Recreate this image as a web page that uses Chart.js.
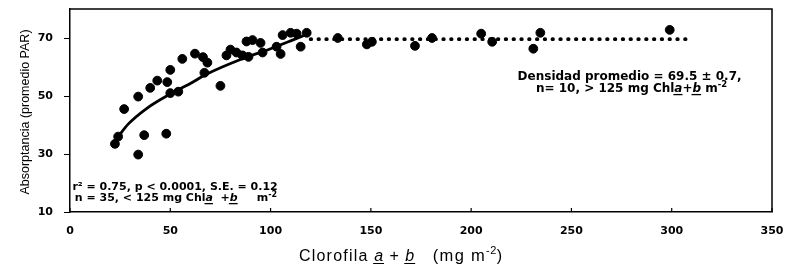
<!DOCTYPE html>
<html><head><meta charset="utf-8">
<script src="https://cdn.jsdelivr.net/npm/chart.js@4/dist/chart.umd.min.js"></script>
<style>html,body{margin:0;padding:0;background:#fff}#wrap{width:788px;height:264px}</style>
</head><body><div id="wrap"><canvas id="c" width="788" height="264"></canvas></div>
<script>
// Data
const lowX  = [22.4,24,27,34,37,34,40,43.5,48.5,48,50,54,50,56,62.3,66.3,68.5,67,75,78,80,83,86,88,89,91,95,96,103,105,106,110,113,115,118];
const lowY  = [33.5,36,45.5,29.8,36.5,49.8,52.8,55.3,54.8,37,51,51.5,59,62.8,64.6,63.4,61.5,58,53.5,64,66,65,64,68.8,63.5,69.3,68.3,65,67,64.5,71,71.8,71.5,67,71.8];
const highX = [133.5,148,150.5,172,180.5,205,210.5,231,234.5,299];
const highY = [70,67.8,68.7,67.3,70,71.5,68.7,66.3,71.8,72.8];
const fitX  = [24,29,38,50,60,68,85,100,110,120];
const fitY  = [36,40.3,45.6,50.7,54.3,57.5,62.6,66.3,69,71.8];
const meanX = [120,308];
const meanY = [69.6,69.6];
const xTicks = [0,50,100,150,200,250,300,350];
const yTicks = [10,30,50,70];

const pts = (xs, ys) => xs.map((x, i) => ({x, y: ys[i]}));
const SANS = '"Liberation Sans", Arial, sans-serif';
const DJV = '"DejaVu Sans", sans-serif';

function drawRich(ctx, parts, x, y, align) {
  let total = 0;
  parts.forEach(p => { ctx.font = p.font; ctx.letterSpacing = (p.ls || 0) + 'px'; p.w = ctx.measureText(p.t).width; total += p.w; });
  let cx = align === 'center' ? x - total / 2 : x;
  ctx.textBaseline = 'alphabetic';
  ctx.textAlign = 'left';
  parts.forEach(p => {
    ctx.font = p.font; ctx.letterSpacing = (p.ls || 0) + 'px';
    ctx.fillText(p.t, cx, y + (p.sup || 0));
    if (p.u) { ctx.fillRect(cx - 1, y + 2, p.w + 1, 1.3); }
    cx += p.w;
  });
  ctx.letterSpacing = '0px';
}

const framePlugin = {
  id: 'frame',
  afterDraw(chart) {
    const {ctx, chartArea: a, scales} = chart;
    const xs = scales.x, ys = scales.y;
    ctx.save();
    ctx.strokeStyle = '#000'; ctx.lineWidth = 1.5;
    ctx.beginPath();
    ctx.moveTo(a.left, a.top); ctx.lineTo(a.right, a.top); ctx.lineTo(a.right, a.bottom);
    ctx.stroke();
    // inward x tick marks
    ctx.lineWidth = 1.2;
    ctx.beginPath();
    xTicks.forEach(v => { const px = xs.getPixelForValue(v); ctx.moveTo(px, a.bottom); ctx.lineTo(px, a.bottom - 4); });
    ctx.stroke();
    ctx.fillStyle = '#000';
    // y title
    ctx.save();
    ctx.translate(29, 112);
    ctx.rotate(-Math.PI / 2);
    ctx.font = '12.5px ' + SANS; ctx.textAlign = 'center'; ctx.textBaseline = 'alphabetic';
    ctx.fillText('Absorptancia (promedio PAR)', 0, 0);
    ctx.restore();
    // x title
    const n = '16px ' + SANS, it = 'italic 16px ' + SANS, sm = '11px ' + SANS;
    drawRich(ctx, [
      {t: 'Clorofila ', font: n, ls: 1.2}, {t: 'a', font: it, u: true, ls: 1}, {t: ' + ', font: n, ls: 1},
      {t: 'b', font: it, u: true, ls: 1}, {t: '   (mg m', font: '16.5px ' + SANS, ls: 1.3}, {t: '-2', font: sm, sup: -7, ls: 0.5},
      {t: ')', font: n}
    ], 299, 261, 'left');
    // annotations
    const b = 'bold 11px ' + DJV, bi = 'bold italic 11px ' + DJV, bs = 'bold 8px ' + DJV;
    const b2 = 'bold 12px ' + DJV, bi2 = 'bold italic 12px ' + DJV, bs2 = 'bold 8.5px ' + DJV;
    drawRich(ctx, [{t: 'r² = 0.75, p < 0.0001, S.E. = 0.12', font: b}], xs.getPixelForValue(1.2), ys.getPixelForValue(17.6), 'left');
    drawRich(ctx, [
      {t: 'n = 35, < 125 mg Chl', font: b}, {t: 'a', font: bi, u: true}, {t: '  +', font: b},
      {t: 'b', font: bi, u: true}, {t: '     m', font: b}, {t: '-2', font: bs, sup: -4}
    ], xs.getPixelForValue(2.4), ys.getPixelForValue(13.8), 'left');
    drawRich(ctx, [{t: 'Densidad promedio = 69.5 ± 0.7,', font: b2}], xs.getPixelForValue(279), ys.getPixelForValue(55.6), 'center');
    drawRich(ctx, [
      {t: 'n= 10, > 125 mg Chl', font: b2}, {t: 'a', font: bi2, u: true}, {t: '+', font: b2},
      {t: 'b', font: bi2, u: true}, {t: ' m', font: b2}, {t: '-2', font: bs2, sup: -5}
    ], xs.getPixelForValue(280), ys.getPixelForValue(51.4), 'center');
    ctx.restore();
  }
};

new Chart(document.getElementById('c'), {
  type: 'scatter',
  data: {
    datasets: [
      {data: pts(lowX, lowY), backgroundColor: '#000', borderColor: '#000', pointRadius: 4.4, pointHoverRadius: 4.4},
      {data: pts(highX, highY), backgroundColor: '#000', borderColor: '#000', pointRadius: 4.4, pointHoverRadius: 4.4},
      {data: pts(fitX, fitY), showLine: true, pointRadius: 0, borderColor: '#000', borderWidth: 2.8, tension: 0.4, cubicInterpolationMode: 'monotone'},
      {data: pts(meanX, meanY), showLine: true, pointRadius: 0, borderColor: '#000', borderWidth: 3.8, borderDash: [0.5, 7.3], borderCapStyle: 'round'}
    ]
  },
  options: {
    responsive: false, animation: false, devicePixelRatio: 1,
    layout: {padding: {left: 0, top: 9, right: 16, bottom: 0}},
    plugins: {legend: {display: false}, tooltip: {enabled: false}},
    scales: {
      x: {
        type: 'linear', min: 0, max: 350,
        afterBuildTicks: s => { s.ticks = xTicks.map(v => ({value: v})); },
        afterFit: s => { s.height = 52; s.paddingLeft = 0; s.paddingRight = 0; },
        grid: {display: false, drawTicks: false},
        border: {color: '#000', width: 1.5},
        ticks: {color: '#000', font: {family: DJV, size: 11, weight: 'bold'}, padding: 13, maxRotation: 0}
      },
      y: {
        type: 'linear', min: 10, max: 80,
        afterBuildTicks: s => { s.ticks = yTicks.map(v => ({value: v})); },
        afterFit: s => { s.width = 70; s.paddingTop = 0; s.paddingBottom = 0; },
        grid: {drawOnChartArea: false, drawTicks: true, tickLength: 6, color: '#000'},
        border: {color: '#000', width: 1.5},
        ticks: {color: '#000', font: {family: DJV, size: 11, weight: 'bold'}, padding: 11}
      }
    }
  },
  plugins: [framePlugin]
});
</script>
</body></html>
